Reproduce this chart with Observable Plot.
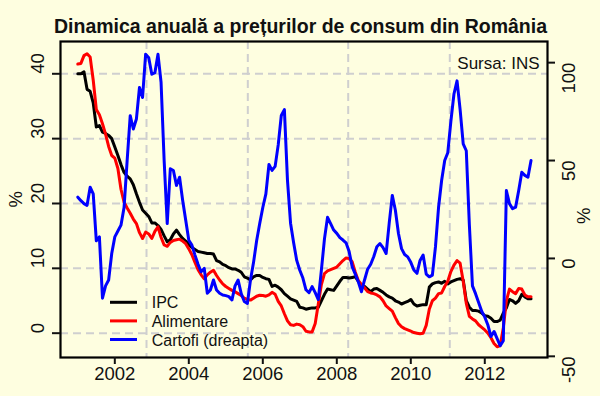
<!DOCTYPE html>
<html><head><meta charset="utf-8">
<script src="https://cdn.jsdelivr.net/npm/d3@7"></script>
<script src="https://cdn.jsdelivr.net/npm/@observablehq/plot@0.6"></script>
<style>
html,body{margin:0;padding:0;background:#fefee0;}
#chart{width:600px;height:396px;}
</style></head><body><div id="chart"></div>
<script>
// Monthly series, Jan 2001 - Apr 2013 (annual % change)
const startYear = 2001;
const ipc = [
 40.0,40.0,40.3,37.6,37.3,35.5,31.8,32.0,31.0,30.8,30.5,30.0,
 28.7,27.4,26.0,24.8,24.2,23.8,22.9,21.5,20.2,19.0,18.5,18.0,
 17.0,17.0,16.6,16.0,15.0,14.1,14.4,15.3,15.9,15.2,14.6,14.2,
 13.7,13.2,12.9,12.6,12.5,12.4,12.3,12.3,12.2,11.2,11.0,10.6,
 10.4,10.1,9.9,9.9,9.7,9.4,8.7,8.5,8.2,8.7,8.9,8.9,
 8.6,8.4,8.3,7.2,7.4,7.1,6.7,6.1,5.7,5.3,5.1,4.9,
 4.0,3.9,3.7,3.8,3.9,3.9,4.0,5.0,6.0,6.8,6.7,6.6,
 7.3,8.0,8.6,8.6,8.5,8.6,8.7,8.0,7.3,7.2,6.8,6.4,
 6.8,6.9,6.6,6.3,5.9,5.6,5.4,5.0,4.8,4.5,4.7,4.9,
 5.2,4.5,4.2,4.3,4.4,4.4,7.1,7.6,7.8,7.9,7.7,8.0,
 7.6,7.9,8.1,8.3,8.4,8.2,5.0,4.0,3.5,3.5,3.4,3.1,
 2.7,2.6,2.3,1.8,1.8,2.0,3.1,3.9,5.2,5.0,4.6,5.0,
 6.0,5.6,5.3,5.3
];
const alimentare = [
 41.5,41.6,42.8,43.1,42.6,39.0,34.5,33.7,32.3,30.7,28.8,27.4,
 27.0,25.4,22.2,20.2,19.3,18.5,17.6,16.9,15.5,14.6,15.6,15.3,
 14.6,15.7,16.4,14.8,13.6,13.4,14.0,14.3,14.4,14.5,14.2,13.8,
 13.0,12.1,10.9,9.8,9.0,8.4,9.0,9.4,9.7,8.9,8.2,7.6,
 7.2,6.9,6.6,6.4,6.1,5.8,5.4,5.2,5.1,5.4,5.7,5.85,
 5.8,5.7,5.9,6.3,6.0,4.9,4.2,3.0,1.9,1.3,1.2,1.4,
 1.3,1.0,0.3,0.2,0.2,1.5,4.5,7.5,9.2,9.6,9.8,10.0,
 10.2,10.7,11.2,11.6,11.5,11.0,9.4,8.1,7.5,7.0,6.4,6.2,
 6.1,5.9,5.6,5.0,4.2,3.8,3.4,2.4,1.5,1.0,0.7,0.5,
 0.3,0.1,0.0,-0.1,0.0,1.2,3.7,5.0,5.4,6.1,6.2,7.2,
 8.0,9.5,10.5,11.2,10.8,8.0,4.6,2.6,2.2,1.9,1.3,0.9,
 0.5,0.0,-0.7,-1.6,-2.1,-1.9,0.8,5.0,6.8,6.4,6.1,6.9,
 6.8,5.9,5.6,5.6
];
const cartofi = [
 31.3,29.5,28.0,27.1,36.4,33.0,9.0,11.0,-20.3,-14.0,-11.0,2.5,
 11.0,14.0,17.0,26.0,50.0,72.9,66.1,71.2,87.3,82.2,104.3,102.5,
 94.1,94.9,104.3,90.0,50.0,17.8,45.8,44.9,37.3,41.5,29.7,19.5,
 9.3,6.8,1.7,-3.0,-6.8,-5.1,-17.8,-16.1,-11.0,-16.1,-17.8,-18.7,
 -19.0,-19.5,-21.2,-14.0,-11.0,-18.0,-22.0,-23.0,-11.0,-2.0,9.0,17.8,
 26.0,33.0,48.0,45.0,47.0,58.0,73.0,76.0,40.0,18.0,8.0,-1.0,
 -6.0,-10.0,-16.0,-17.5,-14.4,-17.5,-21.0,-6.0,10.0,21.0,17.8,14.5,
 12.8,10.6,9.4,8.0,3.5,-4.3,-8.0,-12.0,-17.0,-11.0,-5.5,-3.0,
 1.0,6.0,7.6,5.5,2.5,18.0,32.2,24.6,12.7,5.0,2.0,0.8,
 -2.0,-5.9,-7.6,-1.0,1.7,-8.0,-9.4,-8.5,5.9,26.0,39.8,50.0,
 54.0,70.0,84.0,90.7,76.0,58.5,55.0,17.0,-14.0,-18.0,-22.5,-27.0,
 -30.0,-34.0,-39.9,-37.3,-41.0,-44.6,-42.0,34.7,28.0,25.4,26.2,34.7,
 44.0,42.4,41.5,50.0
];
const xTicks = [2002, 2004, 2006, 2008, 2010, 2012];
const leftTicks = [0, 10, 20, 30, 40];
const rightTicks = [-50, 0, 50, 100];
const gridX = [2002.857, 2005.595, 2008.308, 2011.054];
const xDomain = [2000.532, 2013.695];
const leftDomain = [-3.75, 44.98];
const rightDomain = [-50.6, 110.8];
const legendNames = ["IPC", "Alimentare", "Cartofi (dreapta)"];
const legendColors = ["#000000", "#ff0000", "#0000ff"];
const titleText = "Dinamica anuală a prețurilor de consum din România";
const sourceText = "Sursa: INS";

const toLeft = d3.scaleLinear().domain(rightDomain).range(leftDomain);
const rows = arr => arr.map((v, i) => ({t: startYear + i / 12, v}));
const gridStyle = {stroke: "#cfcfcf", strokeWidth: 2, strokeDasharray: "8,5"};

const chart = Plot.plot({
  width: 600, height: 396,
  marginTop: 41, marginBottom: 39, marginLeft: 60, marginRight: 53,
  style: {background: "#fefee0", fontFamily: "'Liberation Sans', Arial, sans-serif", fontSize: "18.5px", color: "#111", overflow: "visible"},
  x: {domain: xDomain, label: null},
  y: {domain: leftDomain, label: null},
  marks: [
    Plot.ruleY(leftTicks, {y: d => d, ...gridStyle}),
    Plot.ruleX(gridX, {x: d => d, ...gridStyle}),
    Plot.line(rows(ipc), {x: "t", y: "v", stroke: legendColors[0], strokeWidth: 3}),
    Plot.line(rows(alimentare), {x: "t", y: "v", stroke: legendColors[1], strokeWidth: 3}),
    Plot.line(rows(cartofi), {x: "t", y: d => toLeft(d.v), stroke: legendColors[2], strokeWidth: 3}),
    Plot.frame({stroke: "#000", strokeWidth: 2.2}),
    Plot.axisX({ticks: xTicks, tickSize: 7, tickFormat: () => "", label: null, strokeWidth: 2}),
    Plot.axisY({ticks: leftTicks, anchor: "left", tickSize: 8, tickFormat: () => "", label: null, strokeWidth: 2}),
    Plot.axisY({ticks: rightTicks.map(toLeft), anchor: "right", tickSize: 7, tickFormat: () => "", label: null, strokeWidth: 2}),
    Plot.text(xTicks, {x: d => d, text: d => String(d), frameAnchor: "bottom", dy: 22}),
    Plot.text(leftTicks, {y: d => d, text: d => String(d), frameAnchor: "left", dx: -22.5, rotate: -90}),
    Plot.text(rightTicks, {y: d => toLeft(d), text: d => String(d), frameAnchor: "right", dx: 22, rotate: -90}),
    Plot.text(["%"], {text: d => d, frameAnchor: "left", dx: -44, dy: 8, rotate: -90}),
    Plot.text(["%"], {text: d => d, frameAnchor: "right", dx: 37, dy: 8, rotate: -90}),
    Plot.text([titleText], {text: d => d, frameAnchor: "top", dx: -3.5, dy: -22, fontWeight: "bold", fontSize: 19.5}),
    Plot.text([sourceText], {text: d => d, frameAnchor: "top-right", dx: -8, dy: 15.3, textAnchor: "end", fontSize: 17})
  ]
});

const svg = d3.select(chart);
const leg = svg.append("g").attr("font-size", 16).attr("text-anchor", "start");
legendNames.forEach((name, i) => {
  const yy = 302.3 + i * 18.6;
  leg.append("line").attr("x1", 110).attr("x2", 137).attr("y1", yy).attr("y2", yy)
     .attr("stroke", legendColors[i]).attr("stroke-width", 3);
  leg.append("text").attr("x", 151.7).attr("y", yy + 6).attr("fill", "#111").text(name);
});

document.getElementById("chart").appendChild(chart);
</script>
</body></html>
